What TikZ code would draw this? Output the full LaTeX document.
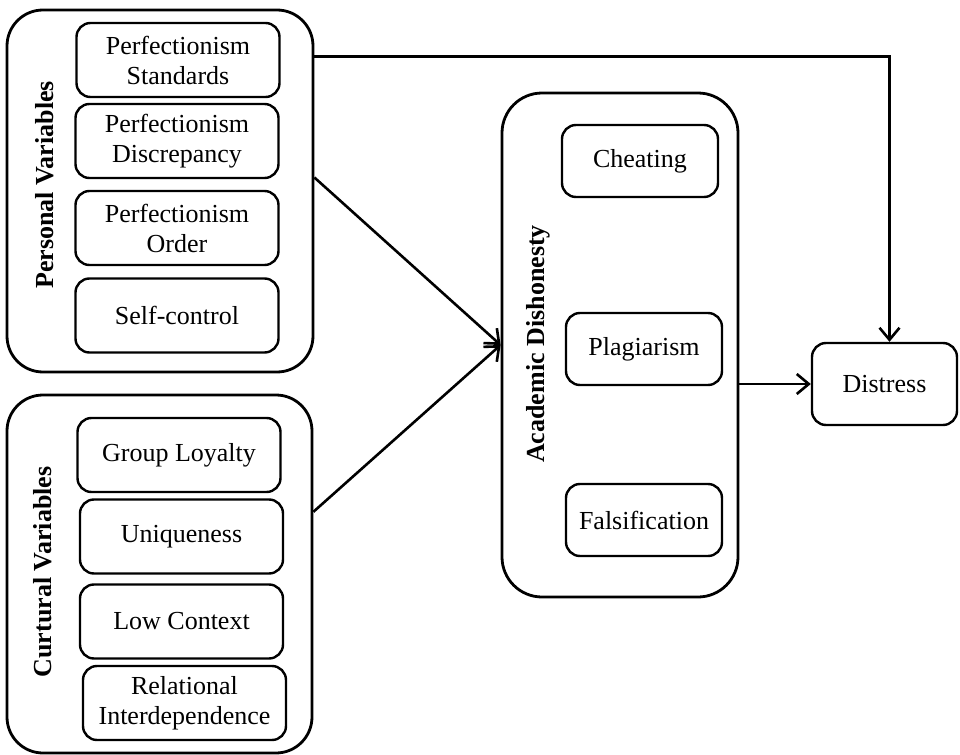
\documentclass[tikz,border=0pt]{standalone}
\usepackage{fontspec}
\setmainfont{Liberation Serif}
\usetikzlibrary{arrows.meta}
\tikzset{>={Straight Barb[length=6pt,width=10pt]}}
\tikzset{
    item/.style={draw, line width=1.2pt, rounded corners=7pt, align=center, minimum width=101.5pt, minimum height=37pt, inner sep=0pt},
    group/.style={draw, line width=1.4pt, rounded corners=18pt, inner sep=0pt},
    grouplabel/.style={rotate=90, font=\fontsize{13}{15}\selectfont\bfseries},
    link/.style={->, line width=1.3pt}
}

\begin{document}
\begin{tikzpicture}[x=0.5pt, y=-0.5pt, font=\fontsize{13}{15}\selectfont]
    \useasboundingbox (0,0) rectangle (960,755);

    \node[group, minimum width=153pt, minimum height=181pt] (personal) at (160,191) {};
    \node[grouplabel] (personallabel) at (45,185) {Personal Variables};
    \node[item] (standards) at (178,60) {Perfectionism\\Standards};
    \node[item] (discrepancy) at (177,141) {Perfectionism\\Discrepancy};
    \node[item] (order) at (177,228) {Perfectionism\\Order};
    \node[item] (selfcontrol) at (177,315.5) {Self-control};

    \node[group, minimum width=152.5pt, minimum height=179pt] (cultural) at (159.5,574) {};
    \node[grouplabel] (culturallabel) at (43,572) {Curtural Variables};
    \node[item] (loyalty) at (179,455) {Group Loyalty};
    \node[item] (uniqueness) at (181.5,536.5) {Uniqueness};
    \node[item] (lowcontext) at (181.5,621.5) {Low Context};
    \node[item] (relational) at (184.5,703) {Relational\\Interdependence};

    \node[group, rounded corners=20pt, minimum width=118pt, minimum height=252pt] (academic) at (620,345) {};
    \node[grouplabel] (academiclabel) at (538,344) {Academic Dishonesty};
    \node[item, minimum width=78pt, minimum height=36pt] (cheating) at (640,161) {Cheating};
    \node[item, minimum width=78pt, minimum height=36pt] (plagiarism) at (644,349) {Plagiarism};
    \node[item, minimum width=78pt, minimum height=36pt] (falsification) at (644,520) {Falsification};

    \node[item, minimum width=72.5pt, minimum height=41pt] (distress) at (884.5,384) {Distress};

    \draw[link] (personal.5) -- (academic.west);
    \draw[link] (cultural.22) -- (academic.west);
    \draw[link] (personal.41) -| ([xshift=2.5pt]distress.north);
    \draw[link] (academic.east |- distress.west) -- (distress.west);
\end{tikzpicture}
\end{document}
